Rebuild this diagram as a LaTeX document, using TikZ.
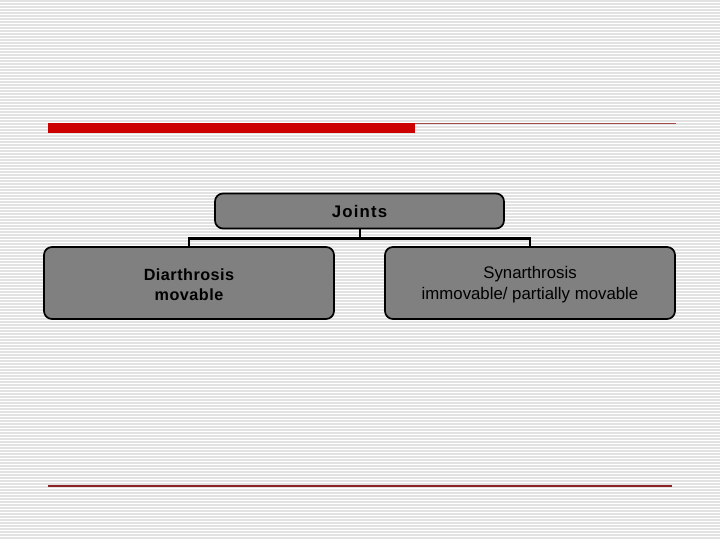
\documentclass[tikz,border=0pt]{standalone}
\usepackage{fontspec}
\setmainfont{Liberation Sans}
\definecolor{stripe}{HTML}{E2E2E2}
\definecolor{boxgray}{HTML}{808080}
\definecolor{barred}{HTML}{CC0000}
\definecolor{thinred}{HTML}{9E4A4A}
\definecolor{botred}{HTML}{8E2222}
\tikzset{
  boxnode/.style={draw=black, line width=1.7pt, fill=boxgray, rounded corners=8pt,
    align=center, inner sep=0pt, font=\fontsize{16.8}{20.5}\selectfont},
  conn/.style={draw=black, line width=2.6pt}
}
\begin{document}
\begin{tikzpicture}[x=1pt,y=-1pt]
\useasboundingbox (0,0) rectangle (720,540);
\fill[white] (0,0) rectangle (720,540);
\foreach \k in {0,...,179}{
  \fill[stripe] (0,{3*\k+0.4}) rectangle (720,{3*\k+1.6});
}
% red bar and lines
\fill[barred] (48,123.3) rectangle (415,132.8);
\draw[thinred, line width=1.1pt] (415,123.8) -- (676,123.8);
\draw[botred, line width=2pt] (48,485.6) -- (672,485.6);
% boxes
\node[boxnode, minimum width=289pt, minimum height=35pt] (j) at (359.5,211)
  {\bfseries\addfontfeature{LetterSpace=7}Joints};
\node[boxnode, minimum width=290pt, minimum height=72pt] (l) at (189,283)
  {};
\node[align=center, inner sep=0pt, font=\fontsize{16.2}{20.5}\selectfont\bfseries\addfontfeature{LetterSpace=3}] (lt) at (189,284.5)
  {Diarthrosis\\movable};
\node[boxnode, minimum width=290pt, minimum height=72pt] (r) at (530,283)
  {};
\node[align=center, inner sep=0pt, font=\fontsize{16.8}{20.5}\selectfont] (rt) at (530,284.5)
  {Synarthrosis\\immovable/ partially movable};
\coordinate (bus) at (359.5,238.5);
\draw[conn, line width=2pt] (j.south) -- (j.south |- bus);
\draw[conn, line cap=rect] (l.north) -- (l.north |- bus) -- (r.north |- bus) -- (r.north);
\end{tikzpicture}
\end{document}
